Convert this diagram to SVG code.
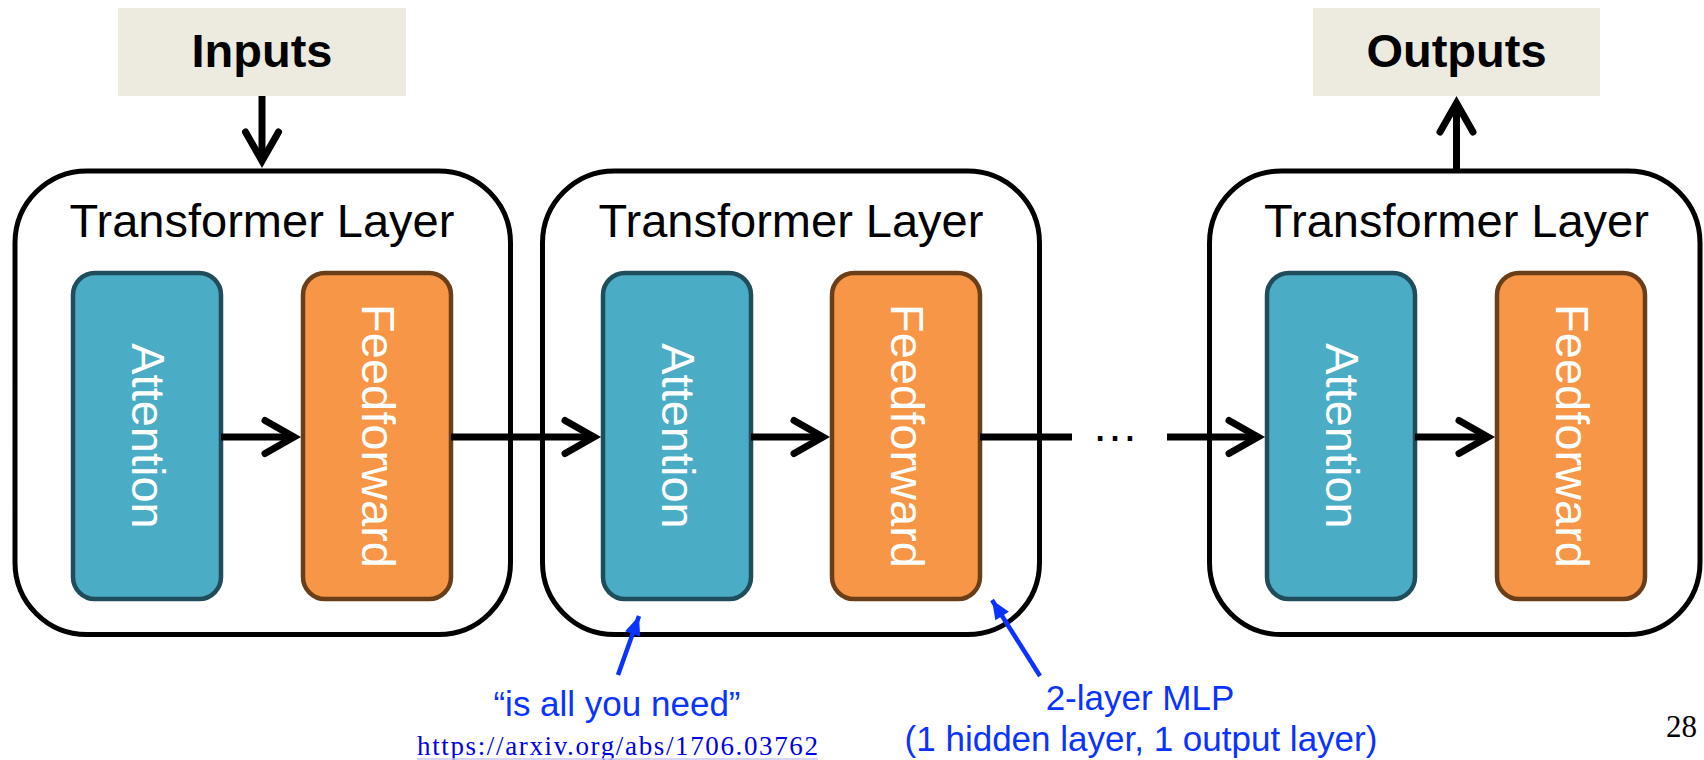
<svg xmlns="http://www.w3.org/2000/svg" width="1704" height="760" viewBox="0 0 1704 760">
  <style>
    .sans { font-family: "Liberation Sans", Arial, Helvetica, sans-serif; }
    .serif { font-family: "Liberation Serif", "Times New Roman", serif; }
    .io rect { fill: #EDEBE0; }
    .io text { font-size: 47px; font-weight: bold; fill: #000; text-anchor: middle; }
    .layer { fill: #fff; stroke: #000; stroke-width: 5; }
    .title { font-size: 47px; fill: #000; text-anchor: middle; }
    .att { fill: #4BACC6; stroke: #1F4D5B; stroke-width: 4.5; }
    .ff { fill: #F79646; stroke: #6B3E1A; stroke-width: 4.5; }
    .inner-label { font-size: 47px; fill: #fff; text-anchor: middle; }
    .flow { fill: none; stroke: #000; stroke-width: 7; }
    .note-line { fill: none; stroke: #0A33FF; stroke-width: 4.5; }
    .note { font-size: 35px; fill: #0A33FF; text-anchor: middle; }
  </style>
  <defs>
    <marker id="chev" markerUnits="userSpaceOnUse" viewBox="-40 -25 50 50" markerWidth="50" markerHeight="50" refX="0" refY="0" orient="auto" overflow="visible">
      <path d="M-29,-16.5 L0,0 L-29,16.5" fill="none" stroke="#000" stroke-width="7" stroke-linecap="round" stroke-linejoin="miter"/>
    </marker>
    <marker id="tri" markerUnits="userSpaceOnUse" viewBox="-20 -10 24 20" markerWidth="24" markerHeight="20" refX="0" refY="0" orient="auto" overflow="visible">
      <path d="M0,0 L-19,-8 L-19,8 Z" fill="#0A33FF"/>
    </marker>
  </defs>

  <!-- Inputs / Outputs -->
  <g id="inputs" class="io sans">
    <rect x="118" y="8" width="288" height="88"/>
    <text x="262" y="67">Inputs</text>
  </g>
  <g id="outputs" class="io sans">
    <rect x="1313" y="8" width="287" height="88"/>
    <text x="1456.5" y="67">Outputs</text>
  </g>

  <!-- Layer 1 -->
  <g id="layer1" class="sans">
    <rect class="layer" x="15" y="171" width="495.5" height="463.5" rx="72" ry="72"/>
    <text class="title" x="262" y="237">Transformer Layer</text>
    <g id="layer1-attention">
      <rect class="att" x="73" y="273" width="148" height="326" rx="22" ry="22"/>
      <text class="inner-label" transform="translate(132,436) rotate(90)">Attention</text>
    </g>
    <g id="layer1-feedforward">
      <rect class="ff" x="303" y="273" width="148" height="326" rx="22" ry="22"/>
      <text class="inner-label" transform="translate(362,436) rotate(90)">Feedforward</text>
    </g>
  </g>

  <!-- Layer 2 -->
  <g id="layer2" class="sans">
    <rect class="layer" x="542.5" y="171" width="497" height="463.5" rx="72" ry="72"/>
    <text class="title" x="791" y="237">Transformer Layer</text>
    <g id="layer2-attention">
      <rect class="att" x="603" y="273" width="148" height="326" rx="22" ry="22"/>
      <text class="inner-label" transform="translate(662,436) rotate(90)">Attention</text>
    </g>
    <g id="layer2-feedforward">
      <rect class="ff" x="832" y="273" width="148" height="326" rx="22" ry="22"/>
      <text class="inner-label" transform="translate(891,436) rotate(90)">Feedforward</text>
    </g>
  </g>

  <!-- Layer N -->
  <g id="layer3" class="sans">
    <rect class="layer" x="1209.5" y="171" width="490.5" height="463.5" rx="72" ry="72"/>
    <text class="title" x="1456.5" y="237">Transformer Layer</text>
    <g id="layer3-attention">
      <rect class="att" x="1267" y="273" width="148" height="326" rx="22" ry="22"/>
      <text class="inner-label" transform="translate(1326,436) rotate(90)">Attention</text>
    </g>
    <g id="layer3-feedforward">
      <rect class="ff" x="1497" y="273" width="148" height="326" rx="22" ry="22"/>
      <text class="inner-label" transform="translate(1556,436) rotate(90)">Feedforward</text>
    </g>
  </g>

  <!-- Connectors -->
  <g id="connectors">
    <path class="flow" d="M262,96 V161" marker-end="url(#chev)"/>
    <path class="flow" d="M221,437 H294" marker-end="url(#chev)"/>
    <path class="flow" d="M451,437 H594" marker-end="url(#chev)"/>
    <path class="flow" d="M751,437 H823" marker-end="url(#chev)"/>
    <path class="flow" d="M980,437 H1072"/>
    <path class="flow" d="M1167,437 H1258" marker-end="url(#chev)"/>
    <path class="flow" d="M1415,437 H1488" marker-end="url(#chev)"/>
    <path class="flow" d="M1456.5,171 V103" marker-end="url(#chev)"/>
    <text class="sans" x="1115" y="441" font-size="47" text-anchor="middle">…</text>
    <path class="note-line" d="M618,675 L639,616" marker-end="url(#tri)"/>
    <path class="note-line" d="M1040,676 L992,600" marker-end="url(#tri)"/>
  </g>

  <!-- Annotations -->
  <g id="note-attention">
    <text class="note sans" x="617" y="716">“is all you need”</text>
    <text class="serif" x="417" y="755" font-size="27" fill="#0000E6" textLength="401" lengthAdjust="spacing">https://arxiv.org/abs/1706.03762</text>
    <line x1="417" y1="759" x2="818" y2="759" stroke="#C9C9F5" stroke-width="1.5"/>
  </g>
  <g id="note-mlp">
    <text class="note sans" x="1140" y="710">2-layer MLP</text>
    <text class="note sans" x="1141" y="751">(1 hidden layer, 1 output layer)</text>
  </g>

  <text id="page-number" class="serif" x="1697" y="737" font-size="31" text-anchor="end" fill="#000">28</text>
</svg>
